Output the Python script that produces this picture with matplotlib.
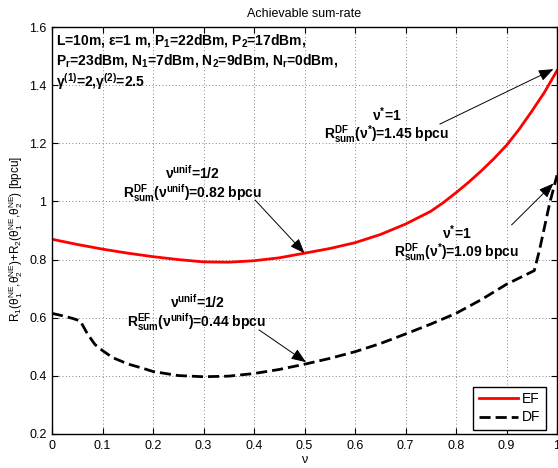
import matplotlib
matplotlib.use('Agg')
import matplotlib.pyplot as plt

# sum-rate curves
nu_ef = [0, 0.05, 0.1, 0.15, 0.2, 0.25, 0.3, 0.35, 0.4, 0.45, 0.5, 0.55,
         0.6, 0.65, 0.7, 0.75, 0.775, 0.8, 0.825, 0.85, 0.875, 0.9, 0.925,
         0.95, 0.975, 1.0]
rate_ef = [0.870, 0.852, 0.836, 0.822, 0.810, 0.800, 0.792, 0.791, 0.796,
           0.806, 0.822, 0.838, 0.858, 0.886, 0.922, 0.966, 0.996, 1.030,
           1.066, 1.105, 1.147, 1.193, 1.248, 1.310, 1.375, 1.450]

nu_df = [0, 0.02, 0.04, 0.056, 0.07, 0.085, 0.1, 0.12, 0.15, 0.18, 0.2,
         0.25, 0.3, 0.35, 0.4, 0.45, 0.5, 0.55, 0.6, 0.65, 0.7, 0.75, 0.8,
         0.85, 0.9, 0.955, 0.965, 0.975, 0.985, 1.0]
rate_df = [0.615, 0.607, 0.598, 0.589, 0.545, 0.508, 0.487, 0.463, 0.441,
           0.426, 0.415, 0.401, 0.397, 0.399, 0.408, 0.422, 0.440, 0.460,
           0.483, 0.511, 0.544, 0.578, 0.615, 0.662, 0.715, 0.762, 0.830,
           0.910, 0.990, 1.090]

x_ticks = [0, 0.1, 0.2, 0.3, 0.4, 0.5, 0.6, 0.7, 0.8, 0.9, 1.0]
x_tick_labels = ['0', '0.1', '0.2', '0.3', '0.4', '0.5', '0.6', '0.7', '0.8', '0.9', '1']
y_ticks = [0.2, 0.4, 0.6, 0.8, 1.0, 1.2, 1.4, 1.6]
y_tick_labels = ['0.2', '0.4', '0.6', '0.8', '1', '1.2', '1.4', '1.6']

params_lines = [
    r'L=10m, ε=1 m, $P_1$=22dBm, $P_2$=17dBm,',
    r'$P_r$=23dBm, $N_1$=7dBm, $N_2$=9dBm, $N_r$=0dBm,',
    r'$γ^{(1)}$=2,$γ^{(2)}$=2.5',
]

# (text, text centre, arrow tail, arrow tip)
notes = [
    ('ν$^{unif}$=1/2\n$R^{DF}_{sum}$(ν$^{unif}$)=0.82 bpcu', (0.279, 1.060), (0.402, 1.005), (0.500, 0.822)),
    ('ν$^{unif}$=1/2\n$R^{EF}_{sum}$(ν$^{unif}$)=0.44 bpcu', (0.287, 0.617), (0.410, 0.558), (0.503, 0.447)),
    ('ν$^{*}$=1\n$R^{DF}_{sum}$(ν$^{*}$)=1.45 bpcu', (0.663, 1.260), (0.768, 1.266), (0.993, 1.455)),
    ('ν$^{*}$=1\n$R^{DF}_{sum}$(ν$^{*}$)=1.09 bpcu', (0.801, 0.855), (0.910, 0.919), (0.993, 1.062)),
]

plt.rcParams['font.family'] = ['Liberation Sans', 'DejaVu Sans']
plt.rcParams['mathtext.default'] = 'regular'

fig = plt.figure(figsize=(5.58, 4.68), dpi=100)
ax = fig.add_axes([52 / 558, 1 - 434 / 468, 505 / 558, 407 / 468])

ax.plot(nu_ef, rate_ef, color='red', lw=2, label='EF')
ax.plot(nu_df, rate_df, color='k', lw=2, dashes=(4, 1.8), label='DF')

ax.set_xlim(0, 1)
ax.set_ylim(0.2, 1.6)
ax.set_xticks(x_ticks)
ax.set_xticklabels(x_tick_labels)
ax.set_yticks(y_ticks)
ax.set_yticklabels(y_tick_labels)
ax.tick_params(direction='in', length=4, width=0.8, top=True, right=True,
               labelsize=9, pad=4)
for s in ax.spines.values():
    s.set_linewidth(1.0)
ax.grid(True, color='0.35', linestyle=(0, (1, 3)), linewidth=0.6)

ax.set_title('Achievable sum-rate', fontsize=9, pad=7)
ax.set_xlabel('ν', fontsize=9, labelpad=2)
ax.set_ylabel(r'$R_1$($θ_1^{NE}$,$θ_2^{NE}$)+$R_2$($θ_1^{NE}$,$θ_2^{NE}$) [bpcu]',
              fontsize=8.5)
ax.yaxis.set_label_coords(-0.053, 0.48)

for i, line in enumerate(params_lines):
    ax.text(0.008, 0.968 - i * 0.051, line, transform=ax.transAxes,
            fontsize=10, fontweight='bold', va='center', ha='left')

for txt, pos, tail, tip in notes:
    ax.text(pos[0], pos[1], txt, fontsize=10, fontweight='bold',
            ha='center', va='center', multialignment='center', linespacing=1.0)
    ax.annotate('', xy=tip, xytext=tail,
                arrowprops=dict(arrowstyle='-|>,head_length=0.9,head_width=0.35',
                                color='k', lw=0.7, shrinkA=0, shrinkB=0))

leg = ax.legend(loc='lower right', bbox_to_anchor=(0.978, 0.01), borderaxespad=0,
                fancybox=False, edgecolor='k', framealpha=1, fontsize=10,
                handlelength=2.8, labelspacing=0.3, borderpad=0.4, handletextpad=0.3)
leg.get_frame().set_linewidth(1.0)

fig.savefig('out.png', dpi=100)
